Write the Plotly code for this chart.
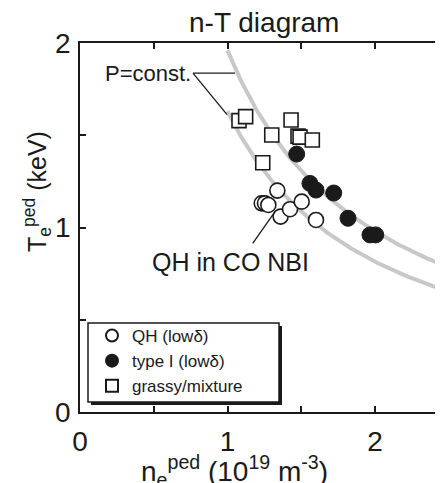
import numpy as np
import plotly.graph_objects as go

# ---- data ----
qh_n = [1.338, 1.232, 1.254, 1.277, 1.360, 1.424, 1.503, 1.600]
qh_T = [1.200, 1.131, 1.131, 1.122, 1.059, 1.099, 1.140, 1.041]

type1_n = [1.469, 1.559, 1.600, 1.720, 1.817, 1.966, 2.005]
type1_T = [1.398, 1.239, 1.203, 1.187, 1.050, 0.960, 0.960]

grassy_n = [1.078, 1.123, 1.300, 1.431, 1.478, 1.492, 1.575, 1.239]
grassy_T = [1.579, 1.601, 1.501, 1.583, 1.495, 1.490, 1.474, 1.351]

p_const_levels = [1.96, 1.63]      # n*T values of the two isobars
curve_n_start, curve_n_end = 1.0, 2.5

x_tickvals = [0, 0.5, 1, 1.5, 2, 2.5]
x_ticktext = ["0", "", "1", "", "2", ""]
y_tickvals = [0, 0.5, 1, 1.5, 2]
y_ticktext = ["0", "", "1", "", "2"]

# leader lines for labels (data coords)
pconst_leader_start = (0.766, 1.837)
pconst_leader_ends = [(1.051, 1.837), (0.997, 1.612)]
qh_leader = [(1.171, 0.914), (1.322, 1.086)]

FONT = "Arial, Liberation Sans, Helvetica, sans-serif"
INK = "#1a1a1a"

OFF = 8                          # page body margin
FW, FH = 443 - OFF, 483 - OFF    # figure size
SL, ST, W, H = 80, 43, 363, 369  # plot area in screen px
L, T = SL - OFF, ST - OFF


def px_x(p):
    return (p - SL) / W


def px_y(p):
    return (ST + H - p) / H


fig = go.Figure()

n_curve = np.linspace(curve_n_start, curve_n_end, 200)
for lvl in p_const_levels:
    fig.add_trace(go.Scatter(x=n_curve, y=lvl / n_curve, mode="lines",
                             line=dict(color="#c8c8c8", width=4),
                             showlegend=False, hoverinfo="skip"))

fig.add_trace(go.Scatter(x=grassy_n, y=grassy_T, mode="markers", name="grassy/mixture",
                         legendrank=3,
                         marker=dict(symbol="square", size=14, color="white",
                                     line=dict(color=INK, width=1.6))))
fig.add_trace(go.Scatter(x=qh_n, y=qh_T, mode="markers", name="QH (low\u03b4)",
                         legendrank=1,
                         marker=dict(symbol="circle", size=15, color="white",
                                     line=dict(color=INK, width=1.6))))
fig.add_trace(go.Scatter(x=type1_n, y=type1_T, mode="markers", name="type I (low\u03b4)",
                         legendrank=2,
                         marker=dict(symbol="circle", size=16, color=INK,
                                     line=dict(color=INK, width=1))))

shapes = []
for (xe, ye) in pconst_leader_ends:
    shapes.append(dict(type="line", xref="x", yref="y",
                       x0=pconst_leader_start[0], y0=pconst_leader_start[1], x1=xe, y1=ye,
                       line=dict(color=INK, width=1.3)))
shapes.append(dict(type="line", xref="x", yref="y",
                   x0=qh_leader[0][0], y0=qh_leader[0][1], x1=qh_leader[1][0], y1=qh_leader[1][1],
                   line=dict(color=INK, width=1.3)))
# legend box with drop shadow
shapes.append(dict(type="rect", xref="paper", yref="paper",
                   x0=px_x(91), x1=px_x(282), y0=px_y(405), y1=px_y(326),
                   fillcolor=INK, line=dict(width=0), layer="above"))
shapes.append(dict(type="rect", xref="paper", yref="paper",
                   x0=px_x(88), x1=px_x(279), y0=px_y(402), y1=px_y(323),
                   fillcolor="white", line=dict(color=INK, width=1.5), layer="above"))

annotations = [
    dict(text="P=const.", x=0.766, y=1.837, xref="x", yref="y", xanchor="right",
         yanchor="middle", showarrow=False, font=dict(size=22, color=INK, family=FONT)),
    dict(text="QH in CO NBI", x=1.017, y=0.813, xref="x", yref="y", xanchor="center",
         yanchor="middle", showarrow=False, font=dict(size=25, color=INK, family=FONT)),
    dict(text="n<sub>e</sub><sup>ped</sup> (10<sup>19</sup> m<sup>-3</sup>)", x=px_x(234),
         y=px_y(471), xref="paper", yref="paper", xanchor="center", yanchor="middle",
         showarrow=False, font=dict(size=28, color=INK, family=FONT)),
    dict(text="T<sub>e</sub><sup>ped</sup> (keV)", x=px_x(37), y=px_y(192),
         xref="paper", yref="paper", xanchor="center", yanchor="middle", textangle=-90,
         showarrow=False, font=dict(size=25, color=INK, family=FONT)),
    dict(text="n-T diagram", x=px_x(264), y=px_y(23), xref="paper",
         yref="paper", xanchor="center", yanchor="middle", showarrow=False,
         font=dict(size=28, color=INK, family=FONT)),
]

axis_common = dict(showline=True, linecolor=INK, linewidth=1.6, mirror="ticks",
                   ticks="inside", ticklen=6, tickwidth=1.5, tickcolor=INK,
                   showgrid=False, zeroline=False, automargin=False,
                   tickfont=dict(size=28, color=INK, family=FONT))

fig.update_layout(
    width=FW, height=FH,
    margin=dict(l=L, r=FW - L - W, t=T, b=FH - T - H, autoexpand=False),
    paper_bgcolor="white", plot_bgcolor="white",
    font=dict(family=FONT, color=INK),
    xaxis=dict(range=[0, W / 147.5], tickvals=x_tickvals, ticktext=x_ticktext,
               ticklabelstandoff=4, **axis_common),
    yaxis=dict(range=[0, 2], tickvals=y_tickvals, ticktext=y_ticktext,
               ticklabelstandoff=2, **axis_common),
    shapes=shapes,
    annotations=annotations,
    showlegend=True,
    legend=dict(x=px_x(92), y=px_y(318), xanchor="left", yanchor="top",
                bgcolor="rgba(0,0,0,0)", borderwidth=0,
                font=dict(size=17, color=INK, family=FONT),
                traceorder="normal", itemsizing="constant", tracegroupgap=0,
                itemwidth=30),
)

fig.write_html("out.html")
